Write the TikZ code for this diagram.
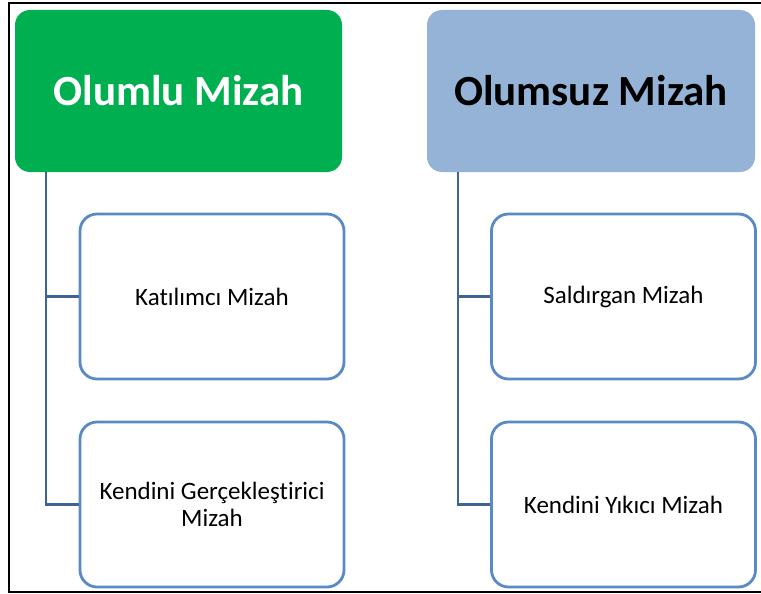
\documentclass[tikz,border=0pt]{standalone}
\usepackage{fontspec}
\setmainfont{Carlito}[Ligatures=NoCommon]
\definecolor{posgreen}{HTML}{00B050}
\definecolor{negblue}{HTML}{95B3D7}
\definecolor{boxedge}{HTML}{5A8AC6}
\definecolor{linkline}{HTML}{3E6497}
\begin{document}
\begin{tikzpicture}[x=1pt,y=-1pt,
  parentbox/.style={rounded corners=15pt, inner sep=0pt},
  childbox/.style={draw=boxedge, line width=2.8pt, fill=white, rounded corners=17pt,
    minimum width=264pt, minimum height=165pt, align=center, font=\fontsize{25}{27}\selectfont, inner sep=0pt},
  link/.style={draw=linkline, line width=2.8pt}]
\useasboundingbox (0,0) rectangle (761,594);
\fill[white] (0,0) rectangle (761,594);
% outer frame: top, left and bottom rules
\draw[line width=2pt] (761,3) -- (9,3) -- (9,592) -- (761,592);

% parent headers
\node[parentbox, fill=posgreen, minimum width=327pt, minimum height=162pt,
  text=white, font=\fontsize{43}{50}\selectfont\bfseries] (pos) at (178.5,91) {Olumlu Mizah};
\node[parentbox, fill=negblue, minimum width=328pt, minimum height=162pt,
  text=black, font=\fontsize{43}{50}\selectfont\bfseries] (neg) at (591,91) {Olumsuz Mizah};

% child boxes
\node[childbox] (k1) at (212,296.5) {Katılımcı Mizah};
\node[childbox] (k2) at (212,504.5) {Kendini Gerçekleştirici\\Mizah};
\node[childbox] (s1) at (623.5,296.5) {Saldırgan Mizah};
\node[childbox] (s2) at (623.5,504.5) {Kendini Yıkıcı Mizah};

% tree connectors
\coordinate (pa) at (46,172);
\coordinate (na) at (458,172);
\draw[link] (pa) -- (pa |- k2.west) -- (k2.west);
\draw[link] (pa |- k1.west) -- (k1.west);
\draw[link] (na) -- (na |- s2.west) -- (s2.west);
\draw[link] (na |- s1.west) -- (s1.west);
\end{tikzpicture}
\end{document}
